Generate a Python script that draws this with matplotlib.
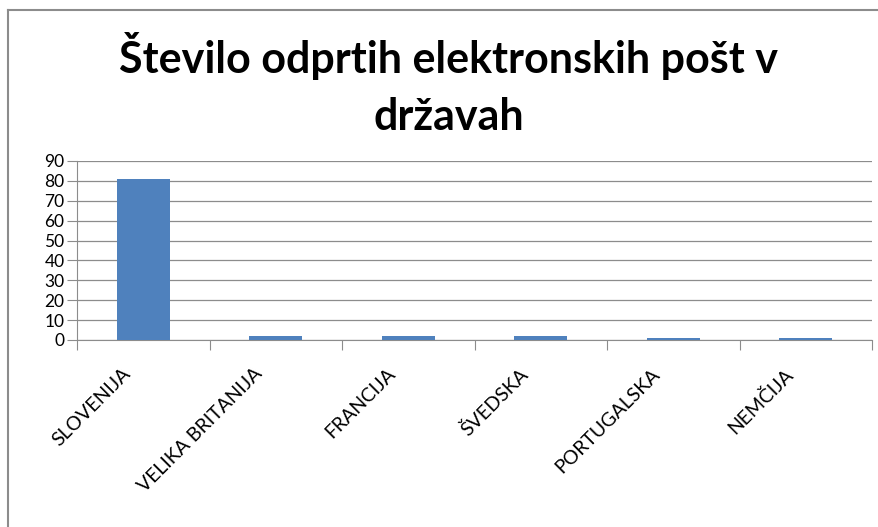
import matplotlib
matplotlib.use("Agg")
import matplotlib.pyplot as plt
import matplotlib.transforms as mtrans

# ============================================================
# data
# ============================================================

countries = ["SLOVENIJA", "VELIKA BRITANIJA", "FRANCIJA", "ŠVEDSKA", "PORTUGALSKA", "NEMČIJA"]
opened = [81, 2, 2, 2, 1, 1]
y_ticks = list(range(0, 100, 10))
title = "Število odprtih elektronskih pošt v\ndržavah"

plt.rcParams["font.family"] = ["Lato", "DejaVu Sans"]

fig = plt.figure(figsize=(8.79, 5.27), dpi=100)
ax = fig.add_axes([77 / 879, 1 - 340 / 527, (872 - 77) / 879, (340 - 161) / 527])

# chart area border (only left and top visible)
fig.add_artist(plt.Line2D([8 / 879, 8 / 879], [0, 1 - 10 / 527], transform=fig.transFigure,
                          color="#8c8c8c", lw=1.5))
fig.add_artist(plt.Line2D([8 / 879, 1], [1 - 10 / 527, 1 - 10 / 527], transform=fig.transFigure,
                          color="#8c8c8c", lw=1.5))

x = list(range(len(countries)))
ax.bar(x, opened, width=0.4, color="#4f81bd", zorder=3)

ax.set_xlim(-0.5, len(countries) - 0.5)
ax.set_ylim(0, 90)
ax.set_yticks(y_ticks)
ax.set_yticklabels([str(v) for v in y_ticks], fontsize=12.5)
ax.yaxis.grid(True, color="#8c8c8c", lw=0.9, zorder=0)

# category boundary ticks
ax.set_xticks([i + 0.5 for i in range(-1, len(countries))])
ax.set_xticklabels([])
ax.set_xticks(x, minor=True)
ax.set_xticklabels(countries, minor=True, rotation=45, ha="right", va="top",
                   rotation_mode="anchor", fontsize=14)
ax.tick_params(axis="x", which="minor", length=0, pad=18)
ax.tick_params(axis="x", which="major", length=7, color="#8c8c8c")
ax.tick_params(axis="y", length=7, color="#8c8c8c", pad=2)

shift = mtrans.ScaledTranslation(-22 / 100, 0, fig.dpi_scale_trans)
for lab in ax.xaxis.get_minorticklabels():
    lab.set_transform(lab.get_transform() + shift)

for s in ["top", "right"]:
    ax.spines[s].set_visible(False)
ax.spines["left"].set_color("#8c8c8c")
ax.spines["bottom"].set_color("#8c8c8c")

fig.text(449 / 879, 1 - 130 / 527, title, ha="center", va="baseline", fontsize=31,
         fontweight="bold", linespacing=1.52)

fig.savefig("out.png", dpi=100)
